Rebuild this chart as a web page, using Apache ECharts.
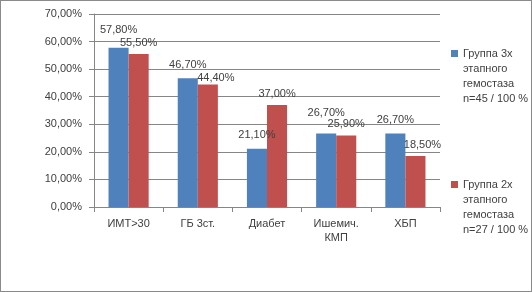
<!DOCTYPE html>
<html><head><meta charset="utf-8">
<script src="https://cdn.jsdelivr.net/npm/echarts@6/dist/echarts.min.js"></script>
<style>
html,body{margin:0;padding:0;background:#fff;}
#c{width:532px;height:292px;box-sizing:border-box;border:1px solid #8a8a8a;}
</style></head>
<body><div id="c"></div>
<script>
const categories = ['ИМТ>30', 'ГБ 3ст.', 'Диабет', 'Ишемич.\nКМП', 'ХБП'];
const group3Values = [57.8, 46.7, 21.1, 26.7, 26.7];
const group2Values = [55.5, 44.4, 37.0, 25.9, 18.5];
const seriesNames = ['Группа 3х\nэтапного\nгемостаза\nn=45 / 100 %', 'Группа 2х\nэтапного\nгемостаза\nn=27 / 100 %'];

const fmt = v => v.toFixed(2).replace('.', ',') + '%';
const font = 'Liberation Sans, Arial, sans-serif';
const txt = '#404040';

// legend icon: square aligned with the first text line of a 4-line block
const legendIcon = 'path://M0,0 M0,4 L7,4 L7,11 L0,11 Z M0,60';

// label placement tweaks (styling only)
function labelFor(values, baseDist, tweaks) {
  return values.map((v, i) => {
    const t = tweaks[i] || {};
    return {value: v, label: {distance: t.d != null ? t.d : baseDist, offset: t.o || [0, 0]}};
  });
}

const chart = echarts.init(document.getElementById('c'), null, {renderer: 'canvas'});
const legendText = {color: txt, fontSize: 11, fontFamily: font, lineHeight: 15};
const legendBase = {orient: 'vertical', itemWidth: 7, itemHeight: 60, itemGap: 4, icon: legendIcon, textStyle: legendText, left: 445};
chart.setOption({
  animation: false,
  grid: {left: 93, right: 91, top: 13, bottom: 84, containLabel: false},
  legend: [
    Object.assign({data: [seriesNames[0]], top: 40}, legendBase),
    Object.assign({data: [seriesNames[1]], top: 171}, legendBase)
  ],
  xAxis: {
    type: 'category', data: categories,
    axisLine: {lineStyle: {color: '#868686'}},
    axisTick: {show: true, length: 5, lineStyle: {color: '#868686'}},
    axisLabel: {color: txt, fontSize: 11, fontFamily: font, margin: 10, lineHeight: 14}
  },
  yAxis: {
    type: 'value', min: 0, max: 70, interval: 10,
    axisLine: {show: true, lineStyle: {color: '#868686'}},
    axisTick: {show: true, length: 5, lineStyle: {color: '#868686'}},
    splitLine: {lineStyle: {color: '#868686'}},
    axisLabel: {color: txt, fontSize: 11, fontFamily: font, margin: 12, formatter: v => fmt(v)}
  },
  series: [
    {name: seriesNames[0], type: 'bar', data: labelFor(group3Values, 8, {0: {d: 12}, 3: {d: 15}}), barGap: '0%', barCategoryGap: '42%',
     itemStyle: {color: '#4F81BD'},
     label: {show: true, position: 'top', color: txt, fontSize: 11, fontFamily: font, formatter: p => fmt(p.value)}},
    {name: seriesNames[1], type: 'bar', data: labelFor(group2Values, 6, {1: {d: 1, o: [8, 0]}, 4: {o: [7, 0]}}), barGap: '0%', barCategoryGap: '42%',
     itemStyle: {color: '#C0504D'},
     label: {show: true, position: 'top', color: txt, fontSize: 11, fontFamily: font, formatter: p => fmt(p.value)}}
  ]
});
</script></body></html>
